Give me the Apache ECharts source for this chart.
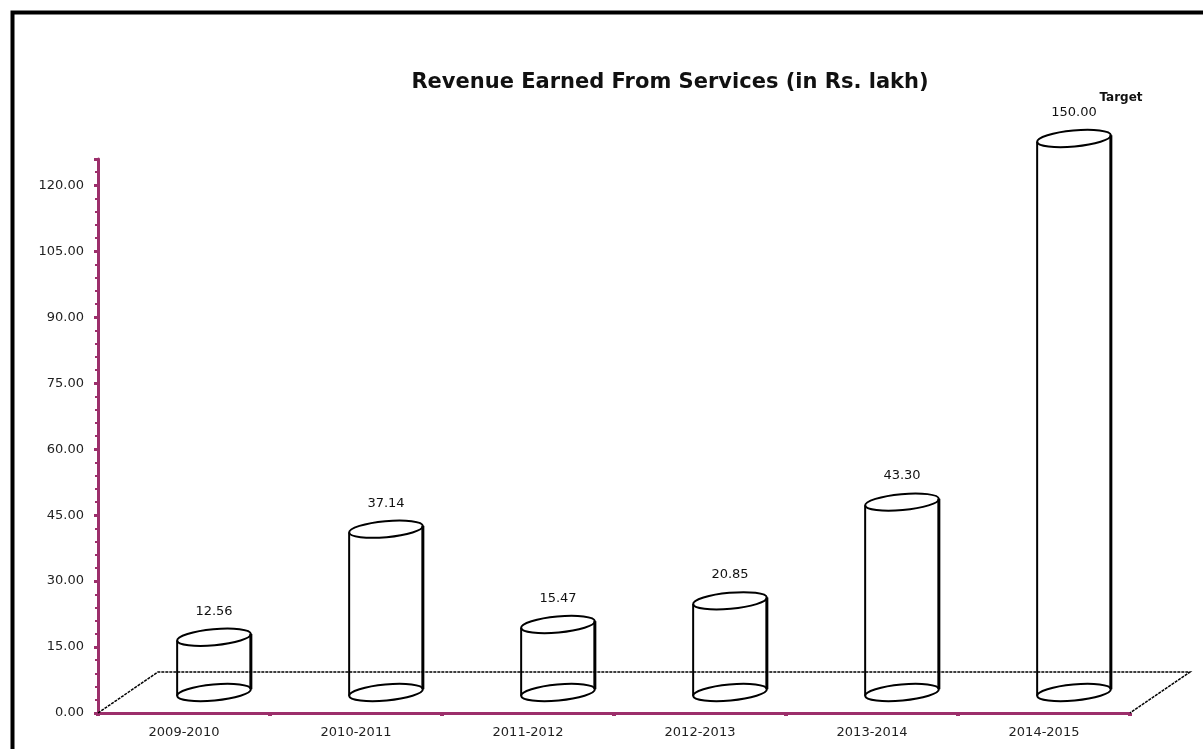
<!DOCTYPE html>
<html lang="en">
<head>
    <meta charset="UTF-8">
    <title>Revenue Earned From Services</title>
    <script src="https://cdn.jsdelivr.net/npm/echarts@6/dist/echarts.min.js"></script>
    <style>
        html, body { margin: 0; padding: 0; background: #fff; }
    </style>
</head>
<body>
<div id="main" style="width:1203px; height:749px;"></div>
<script>
    // data
    var years = ['2009-2010', '2010-2011', '2011-2012', '2012-2013', '2013-2014', '2014-2015'];
    var revenue = [12.56, 37.14, 15.47, 20.85, 43.30, 150.00];
    var notes = ['', '', '', '', '', 'Target'];
    var yMax = 126;   // axis stops here, the target bar is cut off at the top

    var DX = 60, DY = 41;   // depth of the fake 3d floor
    var axisColor = '#9c2f6b';
    var font = '"DejaVu Sans", "Liberation Sans", Arial, sans-serif';

    var myChart = echarts.init(document.getElementById('main'));

    // floor parallelogram behind the cylinders
    function renderFloor(params, api) {
        var bw = api.size([1, 0])[0];
        var p0 = api.coord([0, 0]);
        var p1 = api.coord([years.length - 1, 0]);
        var left = p0[0] - bw / 2, right = p1[0] + bw / 2, y0 = p0[1];
        return {
            type: 'polyline',
            shape: { points: [[left, y0], [left + DX, y0 - DY], [right + DX, y0 - DY], [right, y0]] },
            style: { stroke: '#000', lineWidth: 1.5, lineDash: [3, 1], fill: null }
        };
    }

    // wireframe cylinder for each year
    function renderCylinder(params, api) {
        var i = api.value(0), v = api.value(1);
        var vc = Math.min(v, yMax);
        var base = api.coord([i, 0]);
        var top = api.coord([i, vc]);
        var cx = base[0] + DX / 2;
        var by = base[1] - DY / 2;
        var ty = top[1] - DY / 2;
        var rx = 37, ry = 8, rot = 0.09;
        var ex = rx * Math.cos(rot), ey = rx * Math.sin(rot);
        var line = { stroke: '#000', lineWidth: 2, fill: null };
        var kids = [
            { type: 'ellipse', shape: { cx: cx, cy: by, rx: rx, ry: ry }, rotation: rot, originX: cx, originY: by, style: line },
            { type: 'line', shape: { x1: cx - ex, y1: ty + ey, x2: cx - ex, y2: by + ey }, style: line },
            { type: 'line', shape: { x1: cx + ex, y1: ty - ey, x2: cx + ex, y2: by - ey }, style: { stroke: '#000', lineWidth: 3 } },
            { type: 'ellipse', shape: { cx: cx, cy: ty, rx: rx, ry: ry }, rotation: rot, originX: cx, originY: ty, style: line },
            { type: 'text', x: cx, y: ty - 26, style: { text: v.toFixed(2), fill: '#111', font: '13px ' + font, align: 'center', verticalAlign: 'middle' } }
        ];
        if (notes[i]) {
            kids.push({ type: 'text', x: cx + 47, y: ty - 41, style: { text: notes[i], fill: '#111', font: 'bold 12px ' + font, align: 'center', verticalAlign: 'middle' } });
        }
        return { type: 'group', children: kids };
    }

    var option = {
        animation: false,
        backgroundColor: '#fff',
        title: {
            text: 'Revenue Earned From Services (in Rs. lakh)',
            left: 665,
            textAlign: 'center',
            top: 67,
            textStyle: { fontFamily: font, fontSize: 21, fontWeight: 'bold', color: '#111' }
        },
        graphic: [{
            type: 'rect',
            left: 10, top: 10,
            shape: { width: 1210, height: 760 },
            style: { stroke: '#000', lineWidth: 4, fill: null }
        }],
        grid: { left: 98, right: 73, top: 159, bottom: 36 },
        xAxis: {
            type: 'category',
            data: years,
            axisLine: { lineStyle: { color: axisColor, width: 3 } },
            axisTick: { show: true, length: 3, lineStyle: { color: axisColor, width: 4 } },
            axisLabel: { fontFamily: font, fontSize: 13, color: '#222', margin: 13 },
            splitLine: { show: false }
        },
        yAxis: {
            type: 'value',
            min: 0,
            max: yMax,
            interval: 15,
            axisLine: { show: true, lineStyle: { color: axisColor, width: 3 } },
            axisTick: { show: true, length: 4, lineStyle: { color: axisColor, width: 3 } },
            minorTick: { show: true, splitNumber: 5, length: 3, lineStyle: { color: axisColor, width: 2 } },
            axisLabel: {
                fontFamily: font, fontSize: 13, color: '#222', margin: 14,
                formatter: function (v) { return v > 120 ? '' : v.toFixed(2); }
            },
            splitLine: { show: false }
        },
        series: [
            { type: 'custom', clip: false, renderItem: renderFloor, data: [[0, 0]], z: 1 },
            {
                type: 'custom', clip: false, renderItem: renderCylinder, z: 2,
                data: revenue.map(function (v, i) { return [i, v]; })
            }
        ]
    };

    myChart.setOption(option);
</script>
</body>
</html>
